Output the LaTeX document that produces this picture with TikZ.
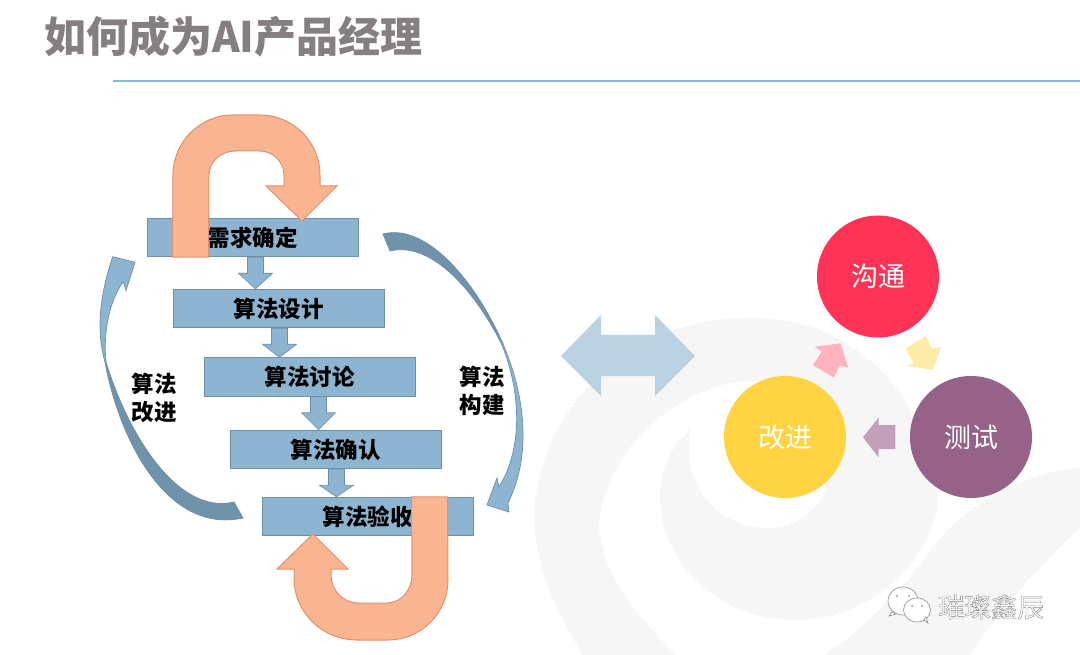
\documentclass[tikz,border=0pt]{standalone}
\usepackage{fontspec}
\usepackage{xcolor}
\usetikzlibrary{calc, positioning}
\setmainfont{Noto Sans CJK SC}

\definecolor{boxblue}{HTML}{8DB4D0}
\definecolor{boxline}{HTML}{6E8FA8}
\definecolor{twistdark}{HTML}{7093AC}
\definecolor{loopfill}{HTML}{F9B592}
\definecolor{loopline}{HTML}{E2916A}
\definecolor{titlegray}{HTML}{857F7F}
\definecolor{ruleblue}{HTML}{86BBDB}
\definecolor{swirlgray}{HTML}{F6F6F6}

\tikzset{
  stepbox/.style={draw=boxline, fill=boxblue, line width=1pt, minimum width=211pt, minimum height=38.5pt, inner sep=0pt, font=\fontsize{22.5}{28}\selectfont\bfseries},
  steparrow/.style={draw=boxline, fill=boxblue, line width=0.7pt},
  selfloop/.style={draw=loopline, fill=loopfill, line width=1pt},
  sidearrow/.style={draw=boxline, line width=0.7pt},
  sidelabel/.style={align=center, inner sep=0pt, font=\fontsize{22.5}{28}\selectfont\bfseries},
  roundnode/.style={circle, minimum size=122pt, inner sep=0pt, text=white, font=\fontsize{27}{32}\selectfont},
}

% block arrow from one box down onto the next
\newcommand{\stepdown}[3]{
  \draw[steparrow] let \p1=(#1.south), \p2=(#2.north) in
    (\x1+#3pt-8pt,\y1) -- (\x1+#3pt-8pt,\y1-16pt) -- (\x1+#3pt-17pt,\y1-16pt) -- (\x1+#3pt,\y2)
    -- (\x1+#3pt+17pt,\y1-16pt) -- (\x1+#3pt+8pt,\y1-16pt) -- (\x1+#3pt+8pt,\y1) -- cycle;
}

\begin{document}
\begin{tikzpicture}[x=1pt, y=-1pt]
\useasboundingbox (0,0) rectangle (1080,655);
\fill[white] (0,0) rectangle (1080,655);

% Background swirl
\fill[swirlgray] (583,655) .. controls (550,600) and (533,560) .. (535,510) .. controls (538,420) and (620,318) .. (747,318)
  .. controls (840,315) and (925,380) .. (938,500) .. controls (930,570) and (860,622) .. (793,620)
  .. controls (715,618) and (660,560) .. (660,495) .. controls (660,470) and (672,445) .. (691,428)
  .. controls (680,470) and (705,528) .. (770,528) .. controls (795,528) and (815,512) .. (828,490)
  -- (790,430) -- (762,382) .. controls (700,372) and (605,440) .. (599,523) .. controls (599,570) and (635,615) .. (676,655) -- cycle;
\fill[swirlgray] (1080,467) .. controls (1020,475) and (965,505) .. (935,545) .. controls (905,585) and (870,625) .. (825,655)
  -- (969,655) .. controls (1000,610) and (1040,565) .. (1080,527) -- cycle;

% Title
\node[anchor=west, inner sep=0pt, text=titlegray, font=\fontsize{42}{48}\selectfont\bfseries] (title) at (44,37) {如何成为AI产品经理};
\coordinate (ruleleft) at (113,81);
\coordinate (ruleright) at (1080,81);
\draw[ruleblue, line width=1.3pt] (ruleleft) -- (ruleright);

% Algorithm steps
\node[stepbox] (need) at (252.5,237.5) {需求确定};
\node[stepbox] (design) at (278.5,308.5) {算法设计};
\node[stepbox] (discuss) at (309.5,377) {算法讨论};
\node[stepbox] (confirm) at (335.5,449.5) {算法确认};
\node[stepbox] (accept) at (367.5,516.5) {算法验收};

\stepdown{need}{design}{3}
\stepdown{design}{discuss}{1}
\stepdown{discuss}{confirm}{9}
\stepdown{confirm}{accept}{1}

% Self loops
\draw[selfloop] ([xshift=26pt]need.south west) -- (173,175) .. controls (173,142) and (200,115) .. (233,115) -- (260,115)
  .. controls (293,115) and (320,142) .. (320,175) -- (320,186) -- (337,186) -- (302,221) -- (266,186) -- (284,186) -- (284,175)
  .. controls (284,162) and (273,151) .. (260,151) -- (235,151) .. controls (221,151) and (209,162) .. (209,175) -- ([xshift=62pt]need.south west) -- cycle;
\draw[selfloop] ([xshift=186pt]accept.north west) -- (448,580) .. controls (448,613) and (421,640) .. (388,640) -- (357,640)
  .. controls (322,640) and (294,612) .. (294,578) -- (294,569) -- (277,569) -- (313,534) -- (348,569) -- (331,569) -- (331,575)
  .. controls (331,590) and (343,603) .. (358,603) -- (387,603) .. controls (401,603) and (412,590) .. (412,575) -- ([xshift=150pt]accept.north west) -- cycle;

% Side arrows
\filldraw[sidearrow, fill=boxblue] (105,362) .. controls (97,335) and (98,300) .. (112.7,256.7) -- (135,262.3) -- (126,290.7) -- (123.3,281.7)
  .. controls (110,300) and (103,330) .. (106,362) -- cycle;
\filldraw[sidearrow, fill=twistdark] (105,362) .. controls (118,435) and (165,535) .. (243,518) -- (234,502)
  .. controls (180,515) and (130,440) .. (106,362) -- cycle;
\filldraw[sidearrow, fill=twistdark] (383,234) .. controls (430,222) and (480,290) .. (503,344) -- (502,345)
  .. controls (480,300) and (435,240) .. (390,251) -- cycle;
\filldraw[sidearrow, fill=boxblue] (503,344) .. controls (525,395) and (532,455) .. (508,503) -- (509,512) -- (487,505) -- (497,478) -- (499,487)
  .. controls (522,450) and (522,395) .. (502,345) -- cycle;

\node[sidelabel] (improvelabel) at (154,398) {算法\\改进};
\node[sidelabel] (buildlabel) at (482,391) {算法\\构建};

% Double arrow between the two halves
\fill[fill=boxblue!60] (561,356) -- (601,315) -- (601,335) -- (655,335) -- (655,315) -- (695,356) -- (655,396) -- (655,376) -- (601,376) -- (601,396) -- cycle;

% Cycle on the right
\node[roundnode, fill={rgb,255:red,255;green,51;blue,85}] (talk) at (878,276.5) {沟通};
\node[roundnode, fill={rgb,255:red,150;green,98;blue,136}] (test) at (971,437) {测试};
\node[roundnode, fill={rgb,255:red,255;green,211;blue,66}] (improve) at (785,437) {改进};

\fill[fill={rgb,255:red,255;green,235;blue,168}] (925.7,336) -- (905.7,348.3) -- (913.6,363.3) -- (906.7,365.7) -- (932.6,370) -- (941.2,346.7) -- (931.9,349) -- cycle;
\fill[fill={rgb,255:red,195;green,160;blue,186}] (895.4,425) -- (878.5,425) -- (878.5,417.7) -- (863,437.3) -- (878.5,457.3) -- (878.5,449) -- (895.4,449) -- cycle;
\fill[fill={rgb,255:red,255;green,179;blue,191}] (840.6,343.3) -- (814.5,346.7) -- (821.7,351.7) -- (813,365) -- (833.7,377.7) -- (839.6,365.7) -- (848.2,367.7) -- cycle;

% Watermark
\filldraw[fill=white, draw=black!45, line width=0.6pt] (903,601) ellipse (15 and 14);
\filldraw[fill=white, draw=black!45, line width=0.6pt] (892,612) -- (889,616) -- (896,614) -- cycle;
\fill[black!45] (897,596) circle (1) (909,596) circle (1);
\filldraw[fill=white, draw=black!45, line width=0.6pt] (917,610) ellipse (13.5 and 12);
\filldraw[fill=white, draw=black!45, line width=0.6pt] (924,620) -- (928,623) -- (926,617) -- cycle;
\fill[black!45] (912,606) circle (1) (922,606) circle (1);
\node[inner sep=0pt, font=\fontsize{26.5}{30}\selectfont] (mark) at (991,607) {\color{white}\special{pdf:code 2 Tr 0.35 w 0.5 G}璀璨鑫辰\special{pdf:code 0 Tr}};
\end{tikzpicture}
\end{document}
